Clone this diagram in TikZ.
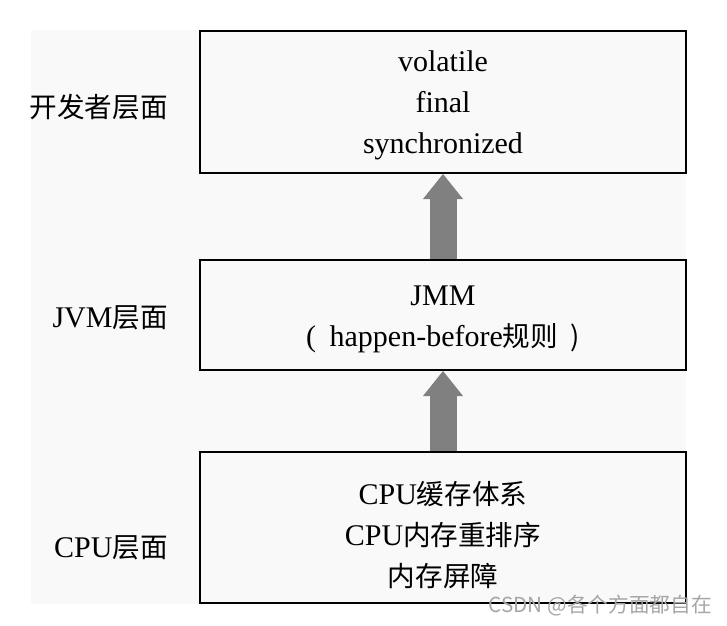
\documentclass[tikz,border=0pt]{standalone}
\usepackage{fontspec}
\setmainfont{Liberation Serif}
\newfontfamily\cjk[Scale=0.92]{Noto Sans CJK SC}
\newfontfamily\wmfont{Noto Sans CJK SC}
\usetikzlibrary{arrows.meta}
\definecolor{bgcol}{RGB}{249,249,249}
\definecolor{arrowgray}{RGB}{128,128,128}

\begin{document}
\begin{tikzpicture}[x=0.75pt,y=-0.75pt,every text node part/.style={align=center},
  layer/.style={draw,line width=1.5pt,fill=bgcol,minimum width=364.5pt,inner sep=0pt},
  boxtext/.style={font=\fontsize{22.5}{30.8}\selectfont},
  sidelabel/.style={anchor=east,font=\fontsize{22.5}{27}\selectfont,inner sep=0pt},
  uparrow/.style={draw=arrowgray,line width=20.25pt,-{Triangle[width=30pt,length=18.75pt,line width=0pt]}}]

\useasboundingbox (0,0) rectangle (727,625);
\fill [bgcol] (31,30) rectangle (686,604);

%%%%%%%%%%%%%%%%%%%%%%%%%%%%%%%%%%%%%%

\node[layer,minimum height=106.5pt] (dev) at (443,102) {};
\node[boxtext] (devtxt) at ([yshift=-2.5pt]dev.center) {volatile\\final\\synchronized};
\node[sidelabel] (devlbl) at (168,107) {\cjk{开发者层面}};

%%%%%%%%%%%%%%%%%%%%%%%%%%%%%%%%%%%%%%

\node[layer,minimum height=82.5pt] (jvm) at (443,315) {};
\node[boxtext] (jvmtxt) at ([yshift=-3pt]jvm.center) {JMM\\(\hspace{0.45em}happen-before\cjk{规则}\hspace{0.45em})};
\node[sidelabel] (jvmlbl) at (168,318) {JVM\cjk{层面}};

%%%%%%%%%%%%%%%%%%%%%%%%%%%%%%%%%%%%%%

\node[layer,minimum height=113.25pt] (cpu) at (443,527.5) {};
\node[boxtext] (cputxt) at ([yshift=-5.5pt]cpu.center) {CPU\cjk{缓存体系}\\CPU\cjk{内存重排序}\\\cjk{内存屏障}};
\node[sidelabel] (cpulbl) at (168,548) {CPU\cjk{层面}};

%%%%%%%%%%%%%%%%%%%%%%%%%%%%%%%%%%%%%%

\draw[uparrow] (cpu.north) -- (jvm.south);
\draw[uparrow] (jvm.north) -- (dev.south);

\node[anchor=east,inner sep=0pt,text=black!35,font=\wmfont\fontsize{15.5}{18}\selectfont] (mark) at (712,606) {CSDN @各个方面都自在};

\end{tikzpicture}
\end{document}
